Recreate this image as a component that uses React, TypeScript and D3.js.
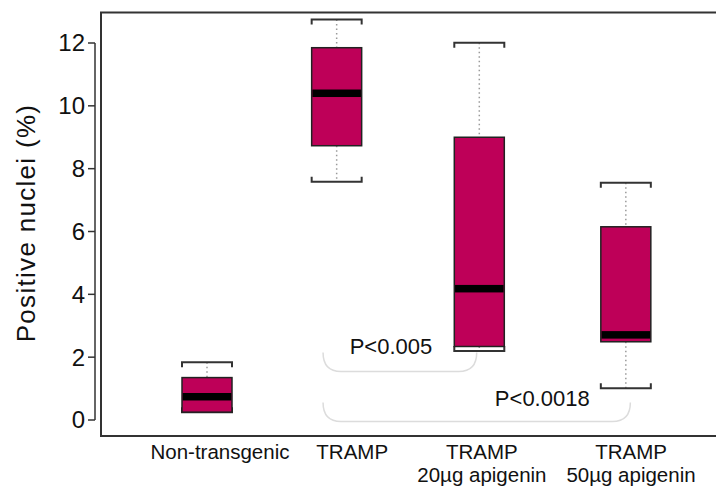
import React from "react";
import * as d3 from "d3";

const labelLine1 = ["Non-transgenic", "TRAMP", "TRAMP", "TRAMP"];
const labelLine2 = ["", "", "20µg apigenin", "50µg apigenin"];
const groupAt = [1, 2, 3.1, 4.23];
const labelAt = [1.1, 2.12, 3.12, 4.27];
const whiskerHigh = [1.84, 12.75, 12.01, 7.55];
const q3 = [1.35, 11.85, 9.0, 6.15];
const median = [0.74, 10.4, 4.18, 2.71];
const q1 = [0.25, 8.73, 2.34, 2.49];
const whiskerLow = [0.25, 7.58, 2.2, 1.01];
const yTicks = [0, 2, 4, 6, 8, 10, 12];
const pLabels = ["P<0.005", "P<0.0018"];
const pFrom = [1.895, 1.895];
const pTo = [3.08, 4.265];
const pLevel = [1.54, -0.05];
const pTextAt = [2.1, 3.22];
const pTextLevel = [2.09, 0.46];

const W = 716;
const H = 487;
const FONT = "'Liberation Sans', Arial, Helvetica, sans-serif";
const FILL = "#BE0058";

export default function App() {
  const x = d3.scaleLinear().domain([1, 4]).range([207, 596]);
  const y = d3.scaleLinear().domain([0, 12]).range([420, 43]);
  const boxW = 50;
  const capH = 5;
  const bandH = 7.5;

  return (
    <svg
      width={W}
      height={H}
      style={{ position: "absolute", left: 0, top: 0, background: "#fff" }}
      fontFamily={FONT}
    >
      <rect x={0} y={0} width={W} height={H} fill="#fff" />
      {/* frame */}
      <path d={`M${W},12.5 H101 V436 H${W}`} fill="none" stroke="#333" strokeWidth={2} />
      {/* y axis */}
      <line x1={95} x2={95} y1={y(0)} y2={y(12)} stroke="#333" strokeWidth={1.5} />
      {yTicks.map((t) => (
        <g key={t}>
          <line x1={88} x2={95} y1={y(t)} y2={y(t)} stroke="#333" strokeWidth={1.5} />
          <text x={85} y={y(t)} dy="0.35em" textAnchor="end" fontSize={24} fill="#111">
            {t}
          </text>
        </g>
      ))}
      <text
        transform={`translate(26,223) rotate(-90)`}
        textAnchor="middle"
        dy="0.35em"
        fontSize={26}
        letterSpacing={1.3}
        fill="#111"
      >
        Positive nuclei (%)
      </text>

      {/* brackets */}
      {pLabels.map((p, i) => {
        const x0 = x(pFrom[i]);
        const x1 = x(pTo[i]);
        const yb = y(pLevel[i]);
        const r = 18;
        const d = `M${x0},${yb - 19} Q${x0},${yb} ${x0 + r},${yb} L${x1 - r},${yb} Q${x1},${yb} ${x1},${yb - 19}`;
        return (
          <g key={p}>
            <path d={d} fill="none" stroke="#dcdcdc" strokeWidth={1.5} />
            <text x={x(pTextAt[i])} y={y(pTextLevel[i])} fontSize={22} fill="#111">
              {p}
            </text>
          </g>
        );
      })}

      {/* boxes */}
      {groupAt.map((a, i) => {
        const cx = x(a);
        const x0 = cx - boxW / 2;
        const x1 = cx + boxW / 2;
        return (
          <g key={i}>
            <line x1={cx} x2={cx} y1={y(whiskerHigh[i])} y2={y(q3[i])} stroke="#9a9a9a" strokeWidth={1.5} strokeDasharray="1.5,3" />
            <line x1={cx} x2={cx} y1={y(q1[i])} y2={y(whiskerLow[i])} stroke="#9a9a9a" strokeWidth={1.5} strokeDasharray="1.5,3" />
            <path d={`M${x0},${y(whiskerHigh[i]) + capH} V${y(whiskerHigh[i])} H${x1} V${y(whiskerHigh[i]) + capH}`} fill="none" stroke="#333" strokeWidth={2} />
            <path d={`M${x0},${y(whiskerLow[i]) - capH} V${y(whiskerLow[i])} H${x1} V${y(whiskerLow[i]) - capH}`} fill="none" stroke="#333" strokeWidth={2} />
            <rect x={x0} y={y(q3[i])} width={boxW} height={y(q1[i]) - y(q3[i])} fill={FILL} stroke="#222" strokeWidth={1.5} />
            <rect x={x0 + 0.75} y={y(median[i]) - bandH / 2} width={boxW - 1.5} height={bandH} fill="#000" />
          </g>
        );
      })}

      {/* x labels */}
      {labelAt.map((a, i) => (
        <g key={i}>
          <text x={x(a)} y={459} textAnchor="middle" fontSize={20.5} fill="#111">
            {labelLine1[i]}
          </text>
          {labelLine2[i] && (
            <text x={x(a)} y={482} textAnchor="middle" fontSize={20.5} fill="#111">
              {labelLine2[i]}
            </text>
          )}
        </g>
      ))}
    </svg>
  );
}
